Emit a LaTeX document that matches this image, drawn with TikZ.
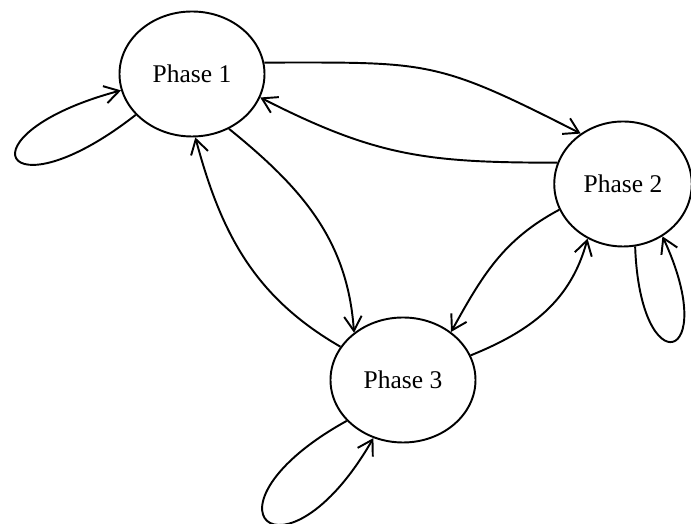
\documentclass[tikz,border=0pt]{standalone}
\usepackage{fontspec}
\setmainfont{Liberation Serif}
\usetikzlibrary{shapes.geometric,arrows.meta}
\tikzset{phase/.style={draw,ellipse,line width=1.1pt,inner sep=0pt,
    minimum width=2.9cm,minimum height=2.5cm,font=\fontsize{14.5}{17}\selectfont}}
\tikzset{fleche/.style={line width=1.1pt,-{Straight Barb[length=2.9mm,width=3.5mm]}}}

\begin{document}
\begin{tikzpicture}
  \useasboundingbox (0,0) rectangle (13.82,10.48);
  % les trois phases
  \node[phase] (p1) at (3.84,9.0) {Phase 1};
  \node[phase,minimum width=2.75cm] (p2) at (12.46,6.8) {Phase 2};
  \node[phase] (p3) at (8.06,2.88) {Phase 3};
  % passages d'une phase a l'autre
  \draw[fleche] (p1.9) to[out=0,in=153,looseness=1.3] (p2.130);
  \draw[fleche] (p2.162) to[out=180,in=-27,looseness=1.1] (p1.-19);
  \draw[fleche] (p1.-56) to[out=-39,in=94] (p3.136);
  \draw[fleche] (p3.152) to[out=150,in=-75] (p1.-87);
  \draw[fleche] (p2.-158) to[out=208,in=61] (p3.45);
  \draw[fleche] (p3.20) to[out=22,in=-105] (p2.-123);
  % boucles
  \draw[fleche] (p1.-144) to[out=218,in=195,distance=3.4cm] (p1.-167);
  \draw[fleche] (p2.-79) to[out=-88,in=-65,distance=2.8cm] (p2.-53);
  \draw[fleche] (p3.-144) to[out=209,in=240,distance=3.6cm] (p3.-117);
\end{tikzpicture}
\end{document}
